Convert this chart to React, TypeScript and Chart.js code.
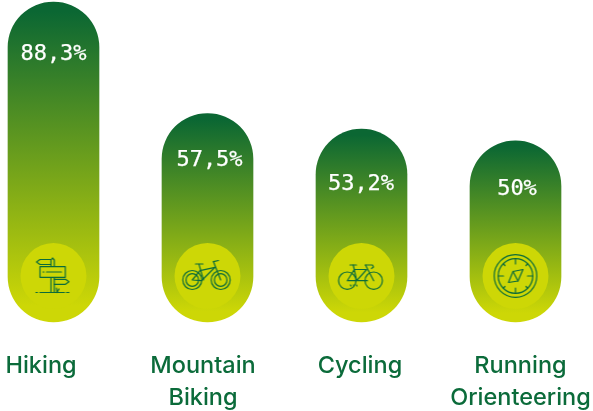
import { useEffect, useRef } from "react";
import { Chart, registerables } from "chart.js";

Chart.register(...registerables);

const categories: (string | string[])[] = ["Hiking", ["Mountain", "Biking"], "Cycling", ["Running", "Orienteering"]];
const shares = [88.3, 57.5, 53.2, 50];
const shareLabels = ["88,3%", "57,5%", "53,2%", "50%"];
const badgeLevel = [12.7, 12.7, 12.7, 12.7];
const iconNames = ["sign", "mtb", "road", "compass"];

const labelShift = [-12.5, -4.5, -1.5, 5];
const valueShift = [0, 2, -0.5, 1.5];
const valueDrop = [53, 48, 56, 49];

const DARK = "#0b6733";
const LIME = "#cdd706";
const INK = "#0b6b3a";

function line(c: CanvasRenderingContext2D, pts: number[]) {
  c.beginPath();
  c.moveTo(pts[0], pts[1]);
  for (let i = 2; i < pts.length; i += 2) c.lineTo(pts[i], pts[i + 1]);
  c.stroke();
}
function circle(c: CanvasRenderingContext2D, x: number, y: number, r: number) {
  c.beginPath();
  c.arc(x, y, r, 0, Math.PI * 2);
  c.stroke();
}

function makeIcon(name: string) {
  const cv = document.createElement("canvas");
  cv.width = 66;
  cv.height = 66;
  const c = cv.getContext("2d")!;
  c.strokeStyle = INK;
  c.lineWidth = 1.2;
  c.lineJoin = "round";
  c.lineCap = "round";
  if (name === "sign") {
    line(c, [30.5, 49.5, 30.5, 17, 32, 15, 33.8, 17, 33.8, 49.5]);
    line(c, [30.5, 16.5, 19.5, 16.5, 16, 19, 19.5, 21.5, 30.5, 21.5]);
    c.fillStyle = LIME;
    c.fillRect(19.5, 23.7, 25.3, 10.6);
    c.strokeRect(19.5, 23.7, 25.3, 10.6);
    line(c, [26, 29, 41, 29]);
    line(c, [22.5, 29, 23.5, 29]);
    line(c, [33.8, 36.3, 45, 36.3, 48.5, 38.8, 45, 41.3, 33.8, 41.3]);
    line(c, [15.5, 49.5, 17, 49.5]);
    line(c, [19.5, 49.5, 44, 49.5]);
    line(c, [46, 49.5, 48.5, 49.5]);
    line(c, [36.5, 49.5, 36, 45]);
    line(c, [36.5, 49.5, 38.5, 46]);
  } else if (name === "mtb") {
    circle(c, 17.8, 37, 9.5);
    circle(c, 17.8, 37, 6.3);
    circle(c, 46.2, 37, 9.5);
    circle(c, 46.2, 37, 6.3);
    line(c, [24.5, 21.3, 29, 37]);
    line(c, [21, 21, 28.5, 21]);
    line(c, [25.5, 27.7, 40.5, 24.3]);
    line(c, [40.5, 24.3, 27, 37.7, 17.8, 37, 25.5, 27.7]);
    line(c, [39, 18.7, 46.2, 37]);
    line(c, [39, 18.7, 44, 17.5]);
  } else if (name === "road") {
    circle(c, 18.8, 37.7, 8.7);
    circle(c, 45.2, 37.7, 8.7);
    line(c, [24.8, 22, 28.2, 37.7, 18.8, 37.7, 25.8, 26.5, 38.2, 26.5, 28.2, 37.7, 39, 37.7]);
    line(c, [21.5, 22, 28, 22]);
    line(c, [37, 22, 45.2, 37.7]);
    line(c, [37, 22, 44, 22, 45, 24, 43, 25.5]);
    line(c, [22, 42, 22.5, 43]);
    line(c, [25, 42, 25.5, 43]);
    line(c, [28, 42, 28.5, 43]);
  } else {
    circle(c, 33, 33, 21.3);
    circle(c, 33, 33, 17.3);
    line(c, [33, 16, 33, 21]);
    line(c, [33, 45, 33, 50]);
    line(c, [16, 33, 21, 33]);
    line(c, [45, 33, 50, 33]);
    line(c, [21, 21, 22.5, 22.5]);
    line(c, [45, 21, 43.5, 22.5]);
    line(c, [21, 45, 22.5, 43.5]);
    line(c, [45, 45, 43.5, 43.5]);
    line(c, [40.5, 26.5, 35.5, 38, 26, 39.5, 30.5, 28.5, 40.5, 26.5]);
    line(c, [30.5, 28.5, 35.5, 38]);
  }
  return cv;
}

const nudgeLabels = {
  id: "nudgeLabels",
  afterLayout(chart: any) {
    const x = chart.scales.x;
    x.getLabelItems(chart.chartArea).forEach((item: any, i: number) => {
      item.options.translation[0] += labelShift[i];
    });
  },
};

const valueLabels = {
  id: "valueLabels",
  afterDatasetsDraw(chart: any) {
    const c = chart.ctx;
    const x = chart.scales.x;
    const y = chart.scales.y;
    c.save();
    c.fillStyle = "#ffffff";
    c.strokeStyle = "#ffffff";
    c.lineWidth = 0.25;
    c.font = "500 22px 'DejaVu Sans Mono'";
    c.textAlign = "center";
    c.textBaseline = "middle";
    shareLabels.forEach((t, i) => {
      const px = x.getPixelForValue(i) + valueShift[i];
      const py = y.getPixelForValue(shares[i]) + valueDrop[i] - 1;
      c.fillText(t, px, py);
      c.strokeText(t, px, py);
    });
    c.restore();
  },
};

export default function App() {
  const ref = useRef<HTMLCanvasElement>(null);
  useEffect(() => {
    const icons = iconNames.map(makeIcon);
    const chart = new Chart(ref.current!, {
      type: "bar",
      data: {
        labels: categories as any,
        datasets: [
          {
            type: "line",
            data: badgeLevel,
            showLine: false,
            order: 0,
            clip: false,
            pointRadius: 33,
            pointStyle: (ctx: any) => icons[ctx.dataIndex],
          },
          {
            type: "line",
            data: badgeLevel,
            showLine: false,
            order: 1,
            clip: false,
            pointRadius: 33,
            pointBorderWidth: 0,
            pointBackgroundColor: LIME,
          },
          {
            type: "bar",
            data: shares,
            order: 2,
            clip: false,
            barThickness: 91,
            borderRadius: 45.5,
            borderSkipped: false,
            backgroundColor: (ctx: any) => {
              const { chart: ch, dataIndex } = ctx;
              const sy = ch.scales.y;
              if (!sy || dataIndex === undefined) return LIME;
              const top = sy.getPixelForValue(shares[dataIndex]);
              const bottom = sy.getPixelForValue(0);
              if (!Number.isFinite(top) || !Number.isFinite(bottom)) return LIME;
              const g = ch.ctx.createLinearGradient(0, top, 0, bottom);
              g.addColorStop(0.03, DARK);
              g.addColorStop(0.95, LIME);
              return g;
            },
          },
        ],
      } as any,
      options: {
        animation: false,
        responsive: false,
        layout: { autoPadding: false, padding: { left: 53.5, right: 77.5, top: 2, bottom: 0 } },
        plugins: { legend: { display: false }, tooltip: { enabled: false } },
        scales: {
          x: {
            offset: false,
            grid: { display: false },
            border: { display: false },
            afterFit: (s: any) => {
              s.height = 89;
              s.paddingLeft = 0;
              s.paddingRight = 0;
            },
            ticks: {
              autoSkip: false,
              maxRotation: 0,
              minRotation: 0,
              padding: 20,
              color: INK,
              font: { family: "Inter", size: 23.5, lineHeight: 1.37, weight: "500" },
            },
          },
          y: { display: false, min: 0, max: 88.3 },
        },
      } as any,
      plugins: [nudgeLabels, valueLabels],
    });
    return () => chart.destroy();
  }, []);
  return (
    <canvas
      ref={ref}
      width={593}
      height={411}
      style={{ position: "fixed", left: 0, top: 0, width: 593, height: 411 }}
    />
  );
}
